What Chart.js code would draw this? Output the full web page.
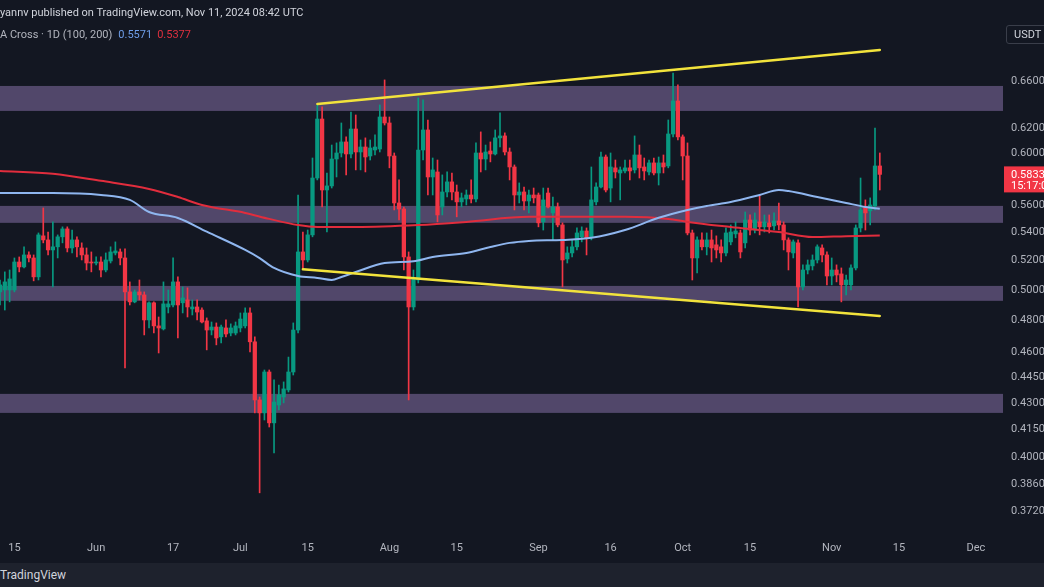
<!DOCTYPE html>
<html>
<head>
<meta charset="utf-8">
<script src="https://cdn.jsdelivr.net/npm/chart.js@4.4.1/dist/chart.umd.min.js"></script>
<style>
  html, body { margin: 0; padding: 0; background: #131722; overflow: hidden; width: 1044px; height: 587px; font-family: Roboto, "Noto Sans", sans-serif; }
  #wrap { position: relative; width: 1044px; height: 587px; }
  #chart { position: absolute; left: 0; top: 0; }
  #top1 { position: absolute; left: 0; top: 0; width: 1044px; height: 22px; line-height: 26px; font-size: 11px; color: #d1d4dc; white-space: nowrap; }
  #top2 { position: absolute; left: 0; top: 28px; line-height: 14px; font-size: 11px; color: #b2b5be; white-space: nowrap; }
  #top2 .b { color: #6f9ee8; margin-left: 6px; }
  #top2 .r { color: #e0303f; margin-left: 5px; }
  #unit { position: absolute; left: 1006px; top: 25px; width: 44px; height: 19px; border: 1px solid #3a3e4a; border-radius: 3px; box-sizing: border-box; font-size: 11px; line-height: 17px; color: #d1d4dc; padding-left: 7px; }
  #foot { position: absolute; left: 0; top: 563px; width: 1044px; height: 24px; background: #1e222d; color: #d1d4dc; font-size: 12px; line-height: 24px; }
</style>
</head>
<body>
<div id="wrap">
  <canvas id="chart" width="1044" height="563"></canvas>
  <div id="top1">yannv published on TradingView.com, Nov 11, 2024 08:42 UTC</div>
  <div id="top2">A Cross · 1D (100, 200)<span class="b">0.5571</span><span class="r">0.5377</span></div>
  <div id="unit">USDT</div>
  <div id="foot">TradingView</div>
</div>
<script>
// daily candles from 12 May 2024, last one 11 Nov 2024
var open = [.4987,.5000,.5000,.5000,.5190,.5156,.5239,.5218,.5088,.5374,.5345,.5274,.5296,.5367,.5424,.5288,.5345,.5288,.5239,.5190,
  .5183,.5190,.5135,.5197,.5253,.5260,.5218,.4987,.4921,.4987,.4967,.4804,.4915,.4766,.4747,.4888,.4901,.5054,.4915,.4934,
  .4875,.4888,.4868,.4798,.4740,.4759,.4697,.4753,.4721,.4721,.4753,.4766,.4849,.4666,.4318,.4244,.4482,.4188,.4289,.4335,
  .4376,.4482,.4740,.5260,.5204,.5381,.5805,.6280,.5713,.5744,.5954,.6002,.6091,.5994,.6197,.6010,.6050,.5978,.6026,.6034,
  .6297,.6247,.5978,.5615,.5570,.5225,.4888,.5067,.6026,.6189,.5813,.5852,.5585,.5698,.5775,.5698,.5623,.5645,.5675,.5645,
  .6002,.5954,.6018,.5994,.6124,.6140,.6010,.5891,.5675,.5698,.5630,.5675,.5675,.5475,.5690,.5541,.5585,.5453,.5211,.5253,
  .5296,.5367,.5409,.5367,.5623,.5736,.5970,.5728,.5884,.5844,.5860,.5884,.5868,.5986,.5891,.5852,.5923,.5844,.5923,.5899,
  .6156,.6433,.6132,.5978,.5395,.5218,.5345,.5296,.5345,.5310,.5296,.5253,.5331,.5388,.5395,.5324,.5489,.5416,.5475,.5439,
  .5468,.5446,.5482,.5453,.5345,.5253,.5324,.5020,.5135,.5163,.5204,.5288,.5239,.5094,.5135,.5108,.5034,.5034,.5149,.5431,
  .5578,.5556,.5593,.5899];
var high = [.5067,.5122,.5135,.5218,.5225,.5296,.5260,.5239,.5395,.5578,.5402,.5475,.5381,.5439,.5439,.5416,.5367,.5324,.5288,.5260,
  .5225,.5225,.5253,.5296,.5331,.5281,.5281,.5054,.5000,.5067,.4987,.4921,.4921,.4823,.5054,.5000,.5218,.5088,.5020,.5014,
  .4934,.4934,.4882,.4817,.4791,.4785,.4772,.4804,.4779,.4791,.4849,.4882,.4882,.4697,.4335,.4494,.4494,.4435,.4405,.4423,
  .4572,.4785,.5675,.5402,.5416,.5962,.6399,.6382,.5844,.6066,.6083,.6247,.6132,.6339,.6314,.6107,.6124,.6107,.6148,.6399,
  .6616,.6297,.6002,.5790,.5585,.5260,.5135,.6459,.6442,.6272,.5962,.5946,.5829,.5852,.5844,.5751,.5690,.5713,.5790,.6083,
  .6173,.6066,.6091,.6189,.6331,.6165,.6042,.5907,.5767,.5736,.5713,.5728,.5690,.5728,.5728,.5660,.5615,.5468,.5296,.5345,
  .5431,.5439,.5431,.5891,.5767,.6010,.5986,.6002,.5946,.5891,.5946,.5946,.6140,.6066,.5962,.5946,.5962,.5970,.5986,.6272,
  .6677,.6572,.6148,.6083,.5416,.5367,.5395,.5395,.5416,.5374,.5345,.5431,.5453,.5475,.5416,.5548,.5526,.5541,.5675,.5526,
  .5526,.5541,.5615,.5475,.5360,.5345,.5345,.5170,.5204,.5239,.5310,.5310,.5260,.5218,.5170,.5149,.5101,.5170,.5453,.5805,
  .5638,.5653,.6205,.6002];
var low = [.4901,.4868,.4921,.4987,.5122,.5149,.5190,.5061,.5067,.5324,.5239,.5020,.5218,.5324,.5260,.5253,.5225,.5204,.5135,.5122,
  .5170,.5088,.5122,.5183,.5239,.5170,.4506,.4901,.4915,.4934,.4709,.4753,.4721,.4597,.4740,.4849,.4888,.4690,.4849,.4823,
  .4836,.4804,.4785,.4616,.4709,.4647,.4659,.4697,.4703,.4709,.4728,.4753,.4604,.4244,.3815,.4204,.4165,.4023,.4261,.4301,
  .4364,.4464,.4721,.5149,.5190,.5367,.5790,.5585,.5402,.5728,.5813,.5970,.5829,.5962,.5868,.5868,.5852,.5946,.5986,.6010,
  .6230,.5884,.5563,.5489,.5135,.4318,.4868,.5047,.5946,.5675,.5675,.5475,.5526,.5660,.5638,.5512,.5585,.5600,.5615,.5623,
  .5852,.5868,.5931,.5986,.6050,.5986,.5790,.5563,.5615,.5563,.5541,.5615,.5439,.5416,.5578,.5345,.5439,.5020,.5183,.5225,
  .5274,.5331,.5239,.5345,.5600,.5728,.5698,.5623,.5805,.5638,.5844,.5790,.5844,.5805,.5790,.5829,.5829,.5751,.5844,.5884,
  .6132,.6107,.5790,.5381,.5067,.5115,.5274,.5239,.5190,.5218,.5190,.5232,.5310,.5360,.5218,.5288,.5381,.5395,.5381,.5402,
  .5395,.5416,.5416,.5274,.5135,.5218,.4888,.5000,.5108,.5135,.5183,.5190,.5034,.5034,.5054,.4921,.4967,.5000,.5135,.5402,
  .5416,.5453,.5563,.5713];
var close = [.5034,.5054,.5074,.5190,.5156,.5239,.5218,.5088,.5381,.5345,.5274,.5296,.5367,.5424,.5288,.5345,.5296,.5239,.5183,.5183,
  .5190,.5135,.5204,.5260,.5267,.5218,.4987,.4921,.4987,.4967,.4804,.4915,.4766,.4753,.4908,.4908,.5054,.4901,.4947,.4888,
  .4888,.4855,.4791,.4740,.4759,.4690,.4759,.4715,.4753,.4766,.4810,.4849,.4666,.4318,.4244,.4482,.4188,.4306,.4347,.4382,
  .4482,.4740,.5260,.5204,.5381,.5805,.6280,.5713,.5744,.5954,.6002,.6091,.5994,.6197,.6010,.6050,.5970,.6042,.6050,.6297,
  .6247,.5978,.5615,.5570,.5225,.4888,.5081,.6026,.6189,.5813,.5868,.5526,.5698,.5775,.5698,.5623,.5653,.5675,.5645,.6002,
  .5954,.6010,.5994,.6124,.6140,.6010,.5891,.5675,.5698,.5630,.5675,.5653,.5468,.5638,.5585,.5585,.5453,.5204,.5253,.5296,
  .5395,.5409,.5360,.5638,.5736,.5970,.5713,.5891,.5852,.5868,.5884,.5860,.5986,.5884,.5860,.5923,.5844,.5923,.5891,.6156,
  .6433,.6132,.5978,.5395,.5218,.5345,.5296,.5345,.5288,.5274,.5253,.5395,.5402,.5409,.5260,.5489,.5416,.5489,.5439,.5475,
  .5439,.5482,.5453,.5345,.5260,.5331,.5020,.5135,.5170,.5204,.5296,.5239,.5094,.5135,.5101,.5034,.5067,.5149,.5431,.5563,
  .5541,.5600,.5899,.5833];

// moving averages
var ma100Dates = ['2024-05-12','2024-05-23','2024-06-02','2024-06-08','2024-06-12','2024-06-18','2024-06-24','2024-07-02','2024-07-05',
  '2024-07-08','2024-07-13','2024-07-17','2024-07-20','2024-07-22','2024-07-25','2024-07-31','2024-08-06','2024-08-10','2024-08-17',
  '2024-08-22','2024-08-26','2024-08-30','2024-09-06','2024-09-12','2024-09-19','2024-09-26','2024-10-02','2024-10-06','2024-10-11',
  '2024-10-17','2024-10-21','2024-10-23','2024-10-29','2024-11-04','2024-11-08','2024-11-11'];
var ma100 = [.5690,.5690,.5675,.5638,.5548,.5504,.5404,.5274,.5217,.5149,.5094,.5081,.5067,.5087,.5121,.5183,.5195,.5225,.5253,
  .5295,.5324,.5338,.5345,.5360,.5416,.5505,.5563,.5593,.5622,.5675,.5713,.5705,.5660,.5615,.5585,.5571];
var ma200Dates = ['2024-05-12','2024-05-23','2024-06-02','2024-06-12','2024-06-18','2024-06-23','2024-07-02','2024-07-07','2024-07-13',
  '2024-07-17','2024-07-25','2024-08-07','2024-08-17','2024-08-30','2024-09-12','2024-09-19','2024-09-28','2024-10-02','2024-10-11',
  '2024-10-21','2024-10-28','2024-11-04','2024-11-11'];
var ma200 = [.5860,.5838,.5783,.5721,.5660,.5600,.5541,.5497,.5452,.5438,.5438,.5452,.5475,.5512,.5512,.5512,.5497,.5475,.5438,
  .5401,.5365,.5372,.5377];

// drawn channel and horizontal zones
var upperLineDates = ['2024-07-17','2024-11-11'];
var upperLine = [.6408, .6886];
var lowerLineDates = ['2024-07-14','2024-11-11'];
var lowerLine = [.5140, .4830];
var zoneLow = [.6348, .5468, .4928, .4244];
var zoneHigh = [.6563, .5593, .5027, .4353];

// axis
var yTicks = [.66, .62, .60, .56, .54, .52, .50, .48, .46, .445, .43, .415, .40, .386, .372];
var tickDates = ['2024-05-15','2024-06-01','2024-06-17','2024-07-01','2024-07-15','2024-08-01','2024-08-15','2024-09-01',
  '2024-09-16','2024-10-01','2024-10-15','2024-11-01','2024-11-15','2024-12-01'];
var tickTexts = ['15','Jun','17','Jul','15','Aug','15','Sep','16','Oct','15','Nov','15','Dec'];

var countdown = '15:17:05';

// categories: one per day, to 6 Dec
var dates = [];
for (var t = Date.UTC(2024, 4, 12); t <= Date.UTC(2024, 11, 6); t += 86400000) {
  dates.push(new Date(t).toISOString().slice(0, 10));
}

var UP = '#089981', DOWN = '#f23645';
var candleColors = close.map(function(c, i) { return c >= open[i] ? UP : DOWN; });
var wicks = low.map(function(l, i) { return [l, high[i]]; });
var bodies = open.map(function(o, i) { return [Math.min(o, close[i]), Math.max(o, close[i])]; });

function pts(ds, vs) { return ds.map(function(d, i) { return {x: d, y: vs[i]}; }); }

var zones = {
  id: 'zones',
  beforeDatasetsDraw: function(chart) {
    var ctx = chart.ctx, a = chart.chartArea, y = chart.scales.y;
    ctx.save();
    ctx.fillStyle = '#51476a';
    zoneLow.forEach(function(lo, i) {
      var top = y.getPixelForValue(zoneHigh[i]);
      var bot = y.getPixelForValue(lo);
      ctx.fillRect(a.left, top, a.right - a.left + 3, bot - top);
    });
    ctx.restore();
  }
};

var priceTag = {
  id: 'priceTag',
  afterDraw: function(chart) {
    var ctx = chart.ctx, y = chart.scales.y;
    var last = close[close.length - 1];
    var py = y.getPixelForValue(last);
    ctx.save();
    ctx.fillStyle = DOWN;
    ctx.fillRect(y.left + 4, py - 8, 48, 26);
    ctx.fillStyle = '#ffffff';
    ctx.font = '11px Roboto';
    ctx.textBaseline = 'middle';
    ctx.fillText(last.toFixed(4), y.left + 11, py + 0.5);
    ctx.fillText(countdown, y.left + 11, py + 11.5);
    ctx.restore();
  }
};

Chart.defaults.font.family = 'Roboto';

new Chart(document.getElementById('chart').getContext('2d'), {
  type: 'bar',
  data: {
    labels: dates,
    datasets: [
      { type: 'line', data: pts(upperLineDates, upperLine), borderColor: '#f2e33c', borderWidth: 2.5, pointRadius: 0, borderCapStyle: 'round', order: 0 },
      { type: 'line', data: pts(lowerLineDates, lowerLine), borderColor: '#f2e33c', borderWidth: 2.5, pointRadius: 0, borderCapStyle: 'round', order: 0 },
      { type: 'line', data: pts(ma100Dates, ma100), borderColor: '#8fb6ef', borderWidth: 2, pointRadius: 0, cubicInterpolationMode: 'monotone', order: 1 },
      { type: 'line', data: pts(ma200Dates, ma200), borderColor: '#e12d3d', borderWidth: 2, pointRadius: 0, cubicInterpolationMode: 'monotone', order: 1 },
      { data: bodies, backgroundColor: candleColors, barThickness: 3.6, minBarLength: 1, grouped: false, order: 2 },
      { data: wicks, backgroundColor: candleColors, barThickness: 1, minBarLength: 1, grouped: false, order: 3 }
    ]
  },
  options: {
    responsive: false,
    animation: false,
    layout: { padding: 0 },
    plugins: { legend: { display: false }, tooltip: { enabled: false } },
    scales: {
      x: {
        type: 'category',
        offset: false,
        grid: { display: false, drawTicks: false },
        border: { display: false },
        ticks: {
          autoSkip: false, maxRotation: 0, padding: 9, color: '#b2b5be', font: { size: 11 },
          callback: function(v, i) {
            var k = tickDates.indexOf(dates[i]);
            return k < 0 ? '' : tickTexts[k];
          }
        },
        afterFit: function(s) { s.height = 30; s.paddingLeft = 0; s.paddingRight = 0; }
      },
      y: {
        type: 'logarithmic',
        position: 'right',
        min: 0.3616,
        max: 0.7360,
        grid: { display: false, drawTicks: false },
        border: { display: false },
        ticks: {
          autoSkip: false, padding: 11, color: '#b2b5be', font: { size: 11 },
          callback: function(v) { return Number(v).toFixed(4); }
        },
        afterBuildTicks: function(s) { s.ticks = yTicks.map(function(v) { return {value: v}; }); },
        afterFit: function(s) { s.width = 44; s.paddingTop = 0; s.paddingBottom = 0; }
      }
    }
  },
  plugins: [zones, priceTag]
});
</script>
</body>
</html>
